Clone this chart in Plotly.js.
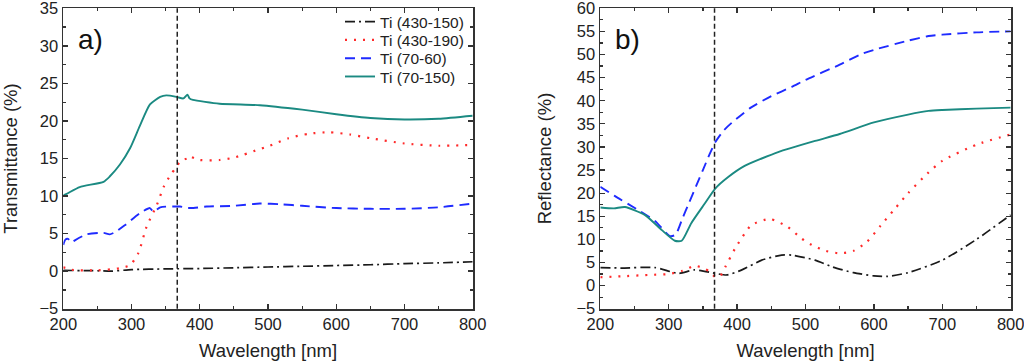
<!DOCTYPE html>
<html>
<head>
<meta charset="utf-8">
<script src="https://cdn.plot.ly/plotly-3.0.1.min.js"></script>
<style>html,body{margin:0;padding:0;background:#fff;}#chart{width:1024px;height:363px;}</style>
</head>
<body>
<div id="chart"></div>
<script>
// ---- data: panel a) Transmittance (%) ----
const seriesNames = ["Ti (430-150)", "Ti (430-190)", "Ti (70-60)", "Ti (70-150)"];
const markerLine = 367; // nm, vertical dashed reference

const tA_430_150_x = [200,250,270,300,350,400,450,500,550,600,650,700,750,800];
const tA_430_150_y = [0.1,0.05,0.0,0.2,0.3,0.35,0.45,0.55,0.65,0.75,0.85,1.0,1.1,1.25];

const tA_430_190_x = [200,205,210,250,283,298,310,322,337,347,357,366,372,381,383,400,429,449,464,486,500,530,560,590,620,650,700,750,800];
const tA_430_190_y = [0.5,0.4,0.2,0.1,0.4,0.8,2.4,5.9,8.8,11.2,12.8,13.9,14.7,15.0,15.3,14.8,14.8,15.1,15.5,16.2,16.6,17.7,18.3,18.5,18.2,17.7,17.0,16.7,16.8];

const tA_70_60_x = [200,203,207,212,217,234,259,268,276,290,312,327,332,342,371,386,410,449,488,520,550,600,650,700,750,800];
const tA_70_60_y = [3.5,4.2,4.3,3.8,4.1,4.9,5.1,4.9,5.2,6.1,7.7,8.4,7.9,8.5,8.6,8.4,8.6,8.7,9.0,8.9,8.7,8.4,8.3,8.3,8.5,9.0];

const tA_70_150_x = [200,205,224,259,268,283,298,312,327,342,351,366,376,382,385,390,429,488,550,600,650,700,750,800];
const tA_70_150_y = [10.1,10.3,11.2,11.9,12.6,14.2,16.4,19.3,22.2,23.2,23.4,23.2,23.0,23.5,23.0,22.8,22.3,22.1,21.5,20.9,20.4,20.2,20.3,20.7];

// ---- data: panel b) Reflectance (%) ----
const rB_430_150_x = [200,230,280,314,338,368,385,407,436,465,480,514,540,570,600,620,650,700,750,800];
const rB_430_150_y = [3.9,3.8,3.9,2.65,3.4,2.65,2.3,3.4,5.5,6.6,6.6,5.5,4.0,2.8,2.1,2.0,2.8,5.5,10.0,15.3];

const rB_430_190_x = [200,230,270,300,320,338,350,360,368,375,383,397,421,448,474,494,509,530,550,570,590,610,630,650,680,700,750,800];
const rB_430_190_y = [1.8,2.0,2.3,2.5,3.2,4.3,3.8,3.0,1.9,2.0,4.1,8.0,13.1,14.4,12.7,10.2,8.8,7.5,7.0,7.5,9.5,13.0,16.5,20.0,24.5,27.0,30.5,32.7];

const rB_70_60_x = [200,221,256,280,302,310,320,330,340,350,360,368,380,392,420,450,480,500,550,580,600,650,680,700,750,800];
const rB_70_60_y = [21.4,19.4,16.3,14.0,10.7,11.0,14.5,18.0,21.5,25.0,28.5,31.0,33.5,35.2,38.5,41.0,43.0,44.5,47.8,50.0,51.0,53.0,54.0,54.3,54.8,55.0];

const rB_70_150_x = [200,220,236,265,290,309,319,333,353,368,387,411,436,460,514,550,600,650,680,700,750,800];
const rB_70_150_y = [16.9,16.7,17.0,15.3,12.0,9.7,9.7,13.5,17.8,21.0,23.5,25.9,27.5,28.9,31.3,32.8,35.3,37.0,37.8,38.0,38.3,38.5];

// ---- styles ----
const styles = [
  {color:"#1a1a1a", dash:"10px,4px,2px,4px", width:1.7},
  {color:"#ff2a2a", dash:"2px,7px", width:2.2},
  {color:"#1f2bff", dash:"10px,6px", width:1.9},
  {color:"#1b8a82", dash:"solid", width:1.9}
];

function tr(x, y, i, xa, ya, show) {
  return {x:x, y:y, type:"scatter", mode:"lines", name:seriesNames[i],
    xaxis:xa, yaxis:ya, showlegend:show, line:{color:styles[i].color, dash:styles[i].dash, width:styles[i].width, shape:"spline", smoothing:0.6}};
}

const data = [
  tr(tA_430_150_x, tA_430_150_y, 0, "x", "y", true),
  tr(tA_430_190_x, tA_430_190_y, 1, "x", "y", true),
  tr(tA_70_60_x, tA_70_60_y, 2, "x", "y", true),
  tr(tA_70_150_x, tA_70_150_y, 3, "x", "y", true),
  tr(rB_430_150_x, rB_430_150_y, 0, "x2", "y2", false),
  tr(rB_430_190_x, rB_430_190_y, 1, "x2", "y2", false),
  tr(rB_70_60_x, rB_70_60_y, 2, "x2", "y2", false),
  tr(rB_70_150_x, rB_70_150_y, 3, "x2", "y2", false)
];

const FONT = "Liberation Sans, Arial, sans-serif";
const frame = "#333";
function xax(domain, anchor) {
  return {domain:domain, anchor:anchor, range:[200,800], dtick:100, tick0:200,
    ticks:"inside", ticklen:5, tickwidth:1.3, tickcolor:frame, mirror:"allticks",
    showline:true, linecolor:frame, linewidth:1.8, showgrid:false, zeroline:false,
    ticklabeloverflow:"allow",
    minor:{ticks:"inside", dtick:50, tick0:200, ticklen:3, tickcolor:frame, tickwidth:1.2, showgrid:false},
    tickfont:{family:FONT, size:16.5, color:"#222"},
    title:{text:"Wavelength [nm]", font:{family:FONT, size:18.5, color:"#222"}, standoff:12}};
}
function yax(domain, anchor, range, title) {
  return {domain:domain, anchor:anchor, range:range, dtick:5, tick0:0,
    ticks:"inside", ticklen:5, tickwidth:1.3, tickcolor:frame, mirror:"allticks",
    showline:true, linecolor:frame, linewidth:1.8, showgrid:false, zeroline:false,
    ticklabeloverflow:"allow",
    minor:{ticks:"inside", dtick:2.5, ticklen:3, tickcolor:frame, tickwidth:1.2, showgrid:false},
    tickfont:{family:FONT, size:16.5, color:"#222"},
    title:{text:title, font:{family:FONT, size:18.5, color:"#222"}, standoff:20}};
}

const yDom = [1-308.7/363, 1-8.3/363];
const layout = {
  width:1024, height:363, margin:{l:0,r:0,t:0,b:0},
  paper_bgcolor:"#fff", plot_bgcolor:"#fff",
  font:{family:FONT, color:"#222"},
  xaxis: xax([63.3/1024, 472.7/1024], "y"),
  yaxis: yax(yDom, "x", [-5,35], "Transmittance (%)"),
  xaxis2: xax([600.3/1024, 1010.7/1024], "y2"),
  yaxis2: yax(yDom, "x2", [-5,60], "Reflectance (%)"),
  showlegend:true,
  legend:{x:340/1024, y:1-5/363, xanchor:"left", yanchor:"top", bgcolor:"rgba(0,0,0,0)",
    font:{family:FONT, size:15.5, color:"#222"}, tracegroupgap:0, itemwidth:30},
  shapes:[
    {type:"line", xref:"x", yref:"y domain", x0:markerLine, x1:markerLine, y0:0, y1:1, line:{color:"#222", width:1.5, dash:"5px,3px"}},
    {type:"line", xref:"x2", yref:"y2 domain", x0:markerLine, x1:markerLine, y0:0, y1:1, line:{color:"#222", width:1.5, dash:"5px,3px"}}
  ],
  annotations:[
    {text:"a)", xref:"x domain", yref:"y domain", x:0.03, y:0.895, xanchor:"left", yanchor:"middle", showarrow:false, font:{family:FONT, size:28, color:"#111"}},
    {text:"b)", xref:"x2 domain", yref:"y2 domain", x:0.03, y:0.895, xanchor:"left", yanchor:"middle", showarrow:false, font:{family:FONT, size:28, color:"#111"}}
  ]
};

Plotly.newPlot("chart", data, layout, {staticPlot:true, displayModeBar:false}).then(function(gd){
  // tighten legend row spacing to match the reference (~18px per entry)
  const rows = gd.querySelectorAll(".legend .traces");
  const gap = 18.3;
  if (!rows.length) return;
  const first = /translate\(([-\d.]+),\s*([-\d.]+)\)/.exec(rows[0].getAttribute("transform") || "");
  if (!first) return;
  const y0 = parseFloat(first[2]);
  rows.forEach(function(g, i){
    const m = /translate\(([-\d.]+),\s*([-\d.]+)\)/.exec(g.getAttribute("transform") || "");
    if (m) g.setAttribute("transform", "translate(" + m[1] + "," + (y0 + i*gap) + ")");
  });
});
</script>
</body>
</html>
